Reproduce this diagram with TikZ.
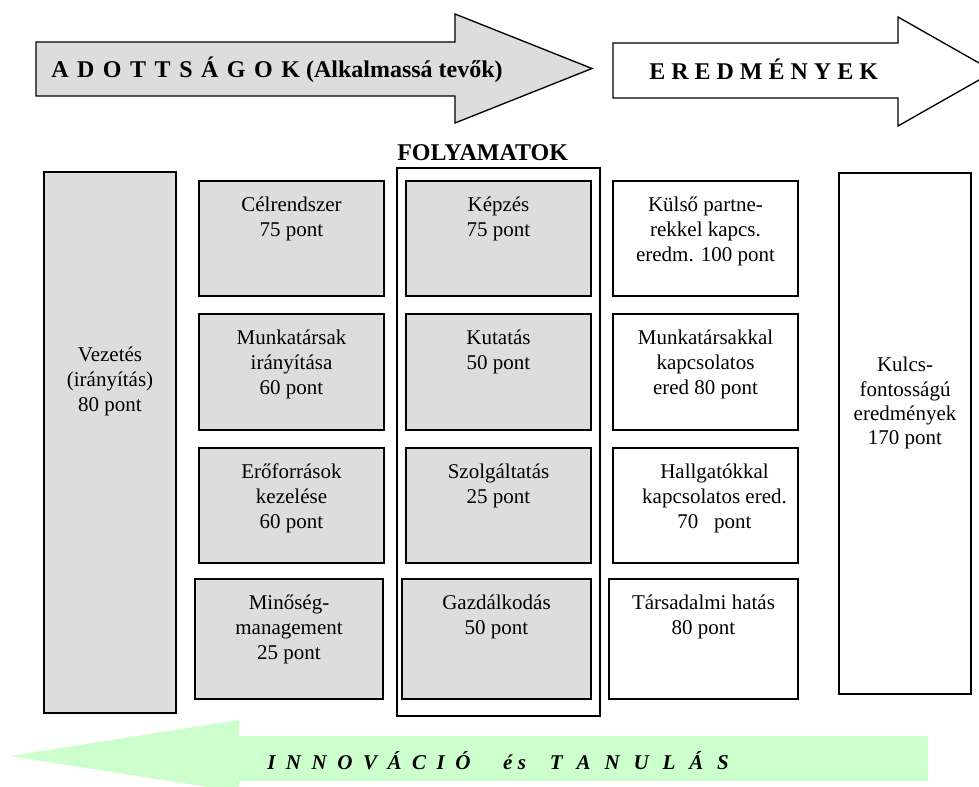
\documentclass[tikz,border=0pt]{standalone}
\usepackage{fontspec}
\setmainfont{Liberation Serif}
\usetikzlibrary{calc}
\definecolor{boxgray}{RGB}{221,221,221}
\definecolor{arrowgreen}{RGB}{204,255,204}
\newcommand{\fl}{\rule{0pt}{14pt}}
\begin{document}
\begin{tikzpicture}[x=0.75pt,y=-0.75pt,
  basebox/.style={draw=black, line width=1.3pt, anchor=north west, inner sep=0pt, outer sep=0pt},
  graybox/.style={basebox, fill=boxgray},
  whitebox/.style={basebox, fill=white},
  wcol/.style={minimum width=138.75pt},
  boxtext/.style={anchor=north, inner sep=0pt, outer sep=0pt, align=center, font=\fontsize{15.75}{18.75}\selectfont},
  titletext/.style={anchor=base west, inner sep=0pt, font=\fontsize{18}{20}\selectfont\bfseries},
  arrowline/.style={draw=black, line width=1pt}
]
\useasboundingbox (0,0) rectangle (979,787);
\clip (0,0) rectangle (979,787);
\fill[white] (0,0) rectangle (979,787);

% top arrows
\draw[arrowline, fill=boxgray] (36,42) -- (455,42) -- (455,14) -- (592,68.5) -- (455,123) -- (455,96) -- (36,96) -- cycle;
\draw[arrowline, fill=white] (613,43) -- (898,43) -- (898,17) -- (994,71.5) -- (898,126) -- (898,98) -- (613,98) -- cycle;
\node[titletext] (adott) at (51,78) {{\spaceskip=6.4pt A D O T T S Á G O K} (Alkalmassá tevők)};
\node[titletext] (ered) at (649,80) {E R E D M É N Y E K};

% bottom arrow
\fill[arrowgreen] (10,756) -- (239,720) -- (239,736) -- (928,736) -- (928,781) -- (239,781) -- (239,792) -- cycle;
\node[anchor=base west, inner sep=0pt, font=\fontsize{15.75}{18}\selectfont\bfseries\itshape] (innov) at (267,769)
  {{\spaceskip=7.9pt I N N O V Á C I Ó}\hspace{24.5pt}é s\hspace{18pt}{\spaceskip=10.4pt T A N U L Á S}};

% FOLYAMATOK frame
\node[titletext, font=\fontsize{18}{20}\selectfont\bfseries] (folyt) at (397,161) {FOLYAMATOK};
\node[basebox, line width=0.8pt, minimum width=152.25pt, minimum height=411pt] (frame) at (397,168) {};

% left tall box
\node[graybox, minimum width=99pt, minimum height=405.75pt] (vez) at (44,172) {};
\node[boxtext] (vezt) at ($(vez.north)+(0,171.3)$) {\fl Vezetés\\(irányítás)\\80 pont};

% column 2
\node[graybox, wcol, minimum height=86.25pt] (celr) at (199,181) {};
\node[graybox, wcol, minimum height=87pt] (munk) at (199,314) {};
\node[graybox, wcol, minimum height=86.25pt] (erof) at (199,448) {};
\node[graybox, minimum width=141pt, minimum height=90pt] (minos) at (195,579) {};
\node[boxtext] (celrt) at ($(celr.north)+(0,12.3)$) {\fl Célrendszer\\75 pont};
\node[boxtext] (munkt) at ($(munk.north)+(0,12.3)$) {\fl Munkatársak\\irányítása\\60 pont};
\node[boxtext] (eroft) at ($(erof.north)+(0,12.3)$) {\fl Erőforrások\\kezelése\\60 pont};
\node[boxtext] (minost) at ($(minos.north)+(0,12.3)$) {\fl Minőség-\\management\\25 pont};

% column 3
\node[graybox, wcol, minimum height=86.25pt] (kepz) at (406,181) {};
\node[graybox, wcol, minimum height=87pt] (kut) at (406,314) {};
\node[graybox, wcol, minimum height=86.25pt] (szolg) at (406,448) {};
\node[graybox, minimum width=141.75pt, minimum height=90pt] (gazd) at (402,579) {};
\node[boxtext] (kepzt) at ($(kepz.north)+(0,12.3)$) {\fl Képzés\\75 pont};
\node[boxtext] (kutt) at ($(kut.north)+(0,12.3)$) {\fl Kutatás\\50 pont};
\node[boxtext] (szolgt) at ($(szolg.north)+(0,12.3)$) {\fl Szolgáltatás\\25 pont};
\node[boxtext] (gazdt) at ($(gazd.north)+(0,12.3)$) {\fl Gazdálkodás\\50 pont};

% column 4
\node[whitebox, wcol, minimum height=86.25pt] (kuls) at (613,181) {};
\node[whitebox, wcol, minimum height=87pt] (munkk) at (613,314) {};
\node[whitebox, wcol, minimum height=86.25pt] (hallg) at (613,448) {};
\node[whitebox, minimum width=141.75pt, minimum height=90pt] (tars) at (609,579) {};
\node[boxtext] (kulst) at ($(kuls.north)+(0,12.3)$) {\fl Külső partne-\\rekkel kapcs.\\eredm. 100 pont};
\node[boxtext] (munkkt) at ($(munkk.north)+(0,12.3)$) {\fl Munkatársakkal\\kapcsolatos\\ered 80 pont};
\node[boxtext] (hallgt) at ($(hallg.north)+(9,12.3)$) {\fl Hallgatókkal\\kapcsolatos ered.\\70\ \ \ pont};
\node[boxtext] (tarst) at ($(tars.north)+(0,12.3)$) {\fl Társadalmi hatás\\80 pont};

% right tall box
\node[whitebox, minimum width=99pt, minimum height=390.75pt] (kulcs) at (839,173) {};
\node[boxtext, font=\fontsize{15.75}{18.2}\selectfont] (kulcst) at ($(kulcs.north)+(0,180.3)$) {\fl Kulcs-\\fontosságú\\eredmények\\170 pont};
\end{tikzpicture}
\end{document}
